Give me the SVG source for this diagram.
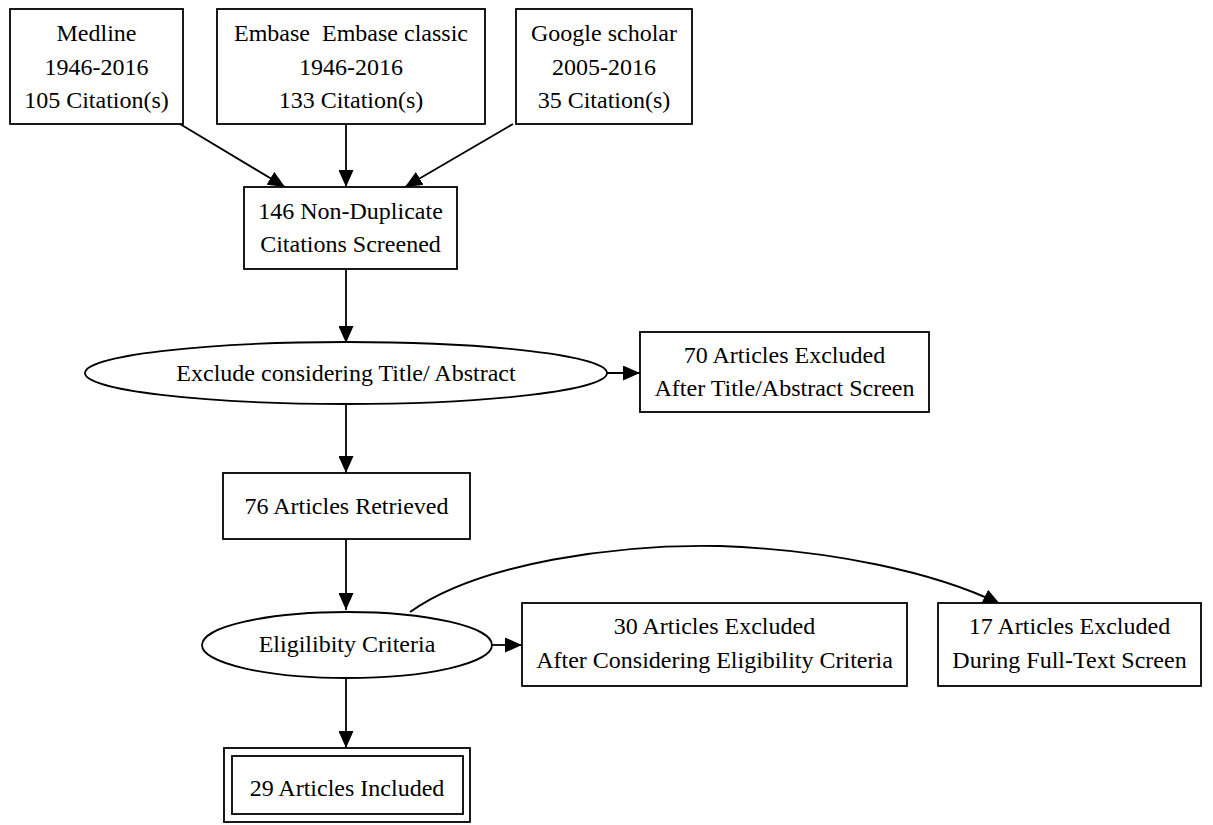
<svg xmlns="http://www.w3.org/2000/svg" width="1213" height="825" viewBox="0 0 1213 825">
<defs>
<marker id="ah" markerUnits="userSpaceOnUse" markerWidth="18" markerHeight="15" refX="17" refY="7.5" orient="auto">
<path d="M0,0 L17,7.5 L0,15 Z" fill="#000"/>
</marker>
<style>
.box{fill:#fff;stroke:#000;stroke-width:1.8}
.t{font-family:"Liberation Serif","Times New Roman",serif;font-size:24px;fill:#000;text-anchor:middle}
.e{fill:none;stroke:#000;stroke-width:1.8;marker-end:url(#ah)}
</style>
</defs>
<rect width="1213" height="825" fill="#fff"/>
<g id="connectors">
<line class="e" x1="180" y1="124" x2="285" y2="187"/>
<line class="e" x1="346" y1="124" x2="346" y2="187"/>
<line class="e" x1="513" y1="124" x2="405" y2="187"/>
<line class="e" x1="346" y1="269" x2="346" y2="343"/>
<line class="e" x1="607" y1="373" x2="640" y2="373"/>
<line class="e" x1="346" y1="404" x2="346" y2="473"/>
<line class="e" x1="346" y1="539" x2="346" y2="610"/>
<line class="e" x1="492" y1="645" x2="522" y2="645"/>
<line class="e" x1="346" y1="678" x2="346" y2="748"/>
<path class="e" d="M410,612 C480,562 620,544 720,546 C830,550 935,572 1000,604"/>
</g>
<g id="medline">
<rect class="box" x="10" y="9" width="173" height="115"/>
<text class="t" x="96.5" y="41">Medline</text>
<text class="t" x="96.5" y="75">1946-2016</text>
<text class="t" x="96.5" y="108">105 Citation(s)</text>
</g>
<g id="embase">
<rect class="box" x="217" y="9" width="268" height="115"/>
<text class="t" x="351" y="41" xml:space="preserve">Embase  Embase classic</text>
<text class="t" x="351" y="75">1946-2016</text>
<text class="t" x="351" y="108">133 Citation(s)</text>
</g>
<g id="google">
<rect class="box" x="516" y="9" width="176" height="115"/>
<text class="t" x="604" y="41">Google scholar</text>
<text class="t" x="604" y="75">2005-2016</text>
<text class="t" x="604" y="108">35 Citation(s)</text>
</g>
<g id="nondup">
<rect class="box" x="244" y="187" width="213" height="82"/>
<text class="t" x="350.5" y="219">146 Non-Duplicate</text>
<text class="t" x="350.5" y="252">Citations Screened</text>
</g>
<g id="exclude-title">
<ellipse class="box" cx="346" cy="373" rx="261" ry="31"/>
<text class="t" x="346" y="381">Exclude considering Title/ Abstract</text>
</g>
<g id="excluded70">
<rect class="box" x="640" y="332" width="289" height="80"/>
<text class="t" x="784.5" y="363">70 Articles Excluded</text>
<text class="t" x="784.5" y="396">After Title/Abstract Screen</text>
</g>
<g id="retrieved">
<rect class="box" x="223" y="473" width="247" height="66"/>
<text class="t" x="346.5" y="514">76 Articles Retrieved</text>
</g>
<g id="eligibility">
<ellipse class="box" cx="347" cy="645" rx="145" ry="33"/>
<text class="t" x="347" y="652">Eligilibity Criteria</text>
</g>
<g id="excluded30">
<rect class="box" x="522" y="603" width="385" height="83"/>
<text class="t" x="714.5" y="634">30 Articles Excluded</text>
<text class="t" x="714.5" y="668">After Considering Eligibility Criteria</text>
</g>
<g id="excluded17">
<rect class="box" x="938" y="603" width="263" height="83"/>
<text class="t" x="1069.5" y="634">17 Articles Excluded</text>
<text class="t" x="1069.5" y="668">During Full-Text Screen</text>
</g>
<g id="included">
<rect class="box" x="224" y="748" width="246" height="74"/>
<rect class="box" x="232" y="756" width="231" height="58"/>
<text class="t" x="347" y="796">29 Articles Included</text>
</g>
</svg>
